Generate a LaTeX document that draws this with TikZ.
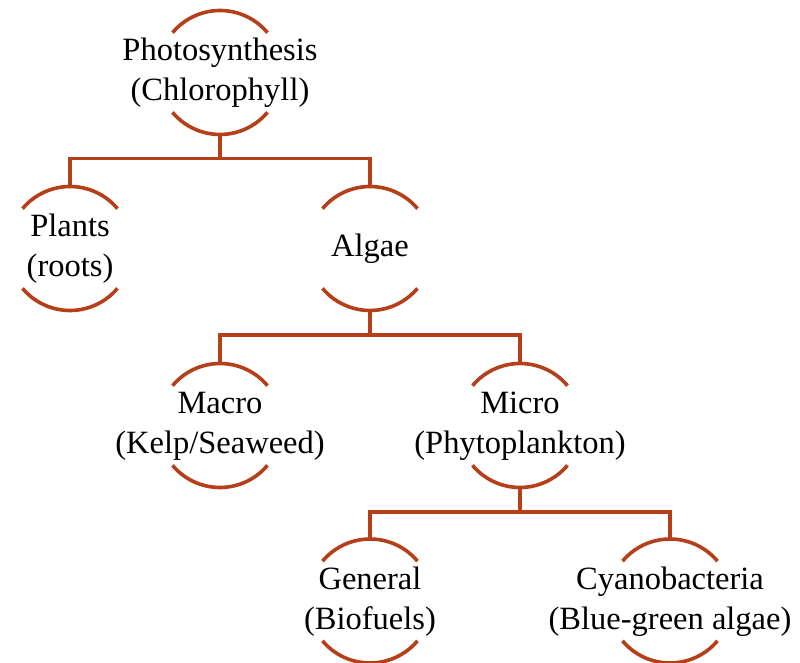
\documentclass[tikz,border=0pt]{standalone}
\usepackage{fontspec}
\setmainfont{Liberation Serif}
\usetikzlibrary{calc}
\definecolor{rust}{RGB}{180,63,24}
\tikzset{
  concept/.style={align=center, inner sep=0pt, font=\fontsize{32.5}{40}\selectfont, text=black},
  link/.style={draw=rust, line width=3.6pt},
  arcline/.style={draw=rust, line width=3.6pt}
}
\newcommand{\halfcircles}[1]{%
  \draw[arcline] ($(#1.center)+(40:62pt)$) arc (40:140:62pt);
  \draw[arcline] ($(#1.center)+(220:62pt)$) arc (220:320:62pt);
  \coordinate (#1-t) at ($(#1.center)+(0,62pt)$);
  \coordinate (#1-b) at ($(#1.center)+(0,-62pt)$);
}
\begin{document}
\begin{tikzpicture}[x=1pt,y=1pt]
\useasboundingbox (0,0) rectangle (800,662);
\node[concept] (photo) at (220,589.5) {\strut Photosynthesis\\(Chlorophyll)\strut};
\node[concept] (plants) at (70,413.5) {\strut Plants\\(roots)\strut};
\node[concept] (algae) at (370,413.5) {\strut Algae};
\node[concept] (macro) at (220,236.5) {\strut Macro\\(Kelp/Seaweed)\strut};
\node[concept] (micro) at (520,236.5) {\strut Micro\\(Phytoplankton)\strut};
\node[concept] (general) at (370,61) {\strut General\\(Biofuels)\strut};
\node[concept] (cyano) at (670,61) {\strut Cyanobacteria\\(Blue-green algae)\strut};
\foreach \n in {photo,plants,algae,macro,micro,general,cyano} {\halfcircles{\n}}
\draw[link] (photo-b) -- ++(0,-24) coordinate (j1);
\draw[link] (j1) -| (plants-t);
\draw[link] (j1) -| (algae-t);
\draw[link] (algae-b) -- ++(0,-24.5) coordinate (j2);
\draw[link] (j2) -| (macro-t);
\draw[link] (j2) -| (micro-t);
\draw[link] (micro-b) -- ++(0,-24.5) coordinate (j3);
\draw[link] (j3) -| (general-t);
\draw[link] (j3) -| (cyano-t);
\end{tikzpicture}
\end{document}
